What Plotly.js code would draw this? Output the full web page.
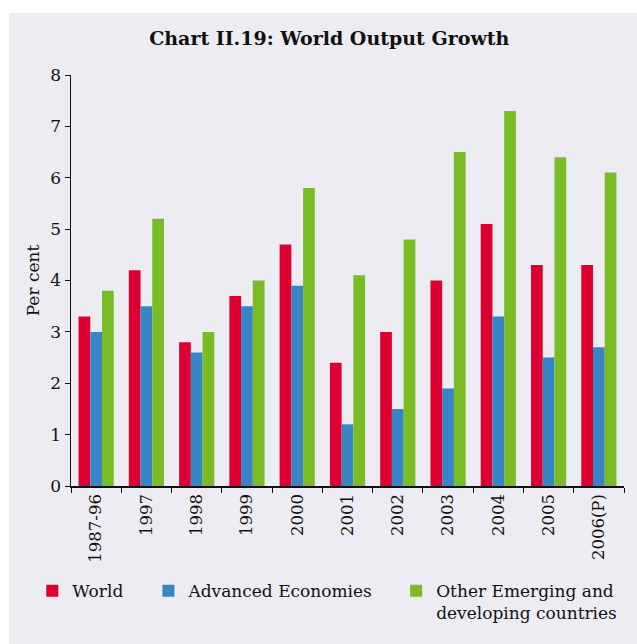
<!DOCTYPE html>
<html>
<head>
<meta charset="utf-8">
<script src="https://cdn.plot.ly/plotly-3.0.1.min.js"></script>
<style>
html,body{margin:0;padding:0;background:#ffffff;}
#chart{position:absolute;left:9px;top:13px;width:628px;height:631px;}
</style>
</head>
<body>
<div id="chart"></div>
<script>
const categories = ["1987-96","1997","1998","1999","2000","2001","2002","2003","2004","2005","2006(P)"];
const world = [3.3, 4.2, 2.8, 3.7, 4.7, 2.4, 3.0, 4.0, 5.1, 4.3, 4.3];
const advanced = [3.0, 3.5, 2.6, 3.5, 3.9, 1.2, 1.5, 1.9, 3.3, 2.5, 2.7];
const emerging = [3.8, 5.2, 3.0, 4.0, 5.8, 4.1, 4.8, 6.5, 7.3, 6.4, 6.1];
const yTicks = [0,1,2,3,4,5,6,7,8];

const font = "DejaVu Serif, serif";
const bg = "#ECECF2";

const traces = [
  {type:"bar", name:"World", x:categories, y:world, marker:{color:"#DE0030"}, legend:"legend"},
  {type:"bar", name:"Advanced Economies", x:categories, y:advanced, marker:{color:"#3585C7"}, legend:"legend2"},
  {type:"bar", name:"Other Emerging and<br>developing countries", x:categories, y:emerging, marker:{color:"#79BC26"}, legend:"legend3"}
];

const legendBase = {orientation:"h", yanchor:"top", xanchor:"left", bgcolor:"rgba(0,0,0,0)",
  font:{family:font, size:17, color:"#111"}, valign:"top", y:-0.212};

const layout = {
  width:628, height:631,
  paper_bgcolor:bg, plot_bgcolor:bg,
  margin:{l:62, r:13, t:62, b:158},
  title:{text:"<b>Chart II.19: World Output Growth</b>", x:0.51, xref:"container", y:0.96, yanchor:"middle",
    font:{family:font, size:19, color:"#111"}},
  barmode:"group", bargap:0.3, bargroupgap:0,
  xaxis:{type:"category", tickangle:-90, showline:true, linecolor:"#111", linewidth:1.5,
    ticks:"outside", ticklen:5, tickcolor:"#111", tickson:"boundaries",
    tickfont:{family:font, size:16.5, color:"#111"}, showgrid:false, zeroline:false, fixedrange:true},
  yaxis:{range:[0,8], tickvals:yTicks, showline:true, linecolor:"#111", linewidth:1.5,
    ticks:"outside", ticklen:5, tickcolor:"#111", showgrid:false, zeroline:false,
    tickfont:{family:font, size:17, color:"#111"},
    title:{text:"Per cent", font:{family:font, size:17, color:"#111"}, standoff:6}},
  showlegend:true,
  legend: Object.assign({}, legendBase, {x:-0.07}),
  legend2: Object.assign({}, legendBase, {x:0.14}),
  legend3: Object.assign({}, legendBase, {x:0.588})
};

Plotly.newPlot("chart", traces, layout, {displayModeBar:false, staticPlot:true});
</script>
</body>
</html>
